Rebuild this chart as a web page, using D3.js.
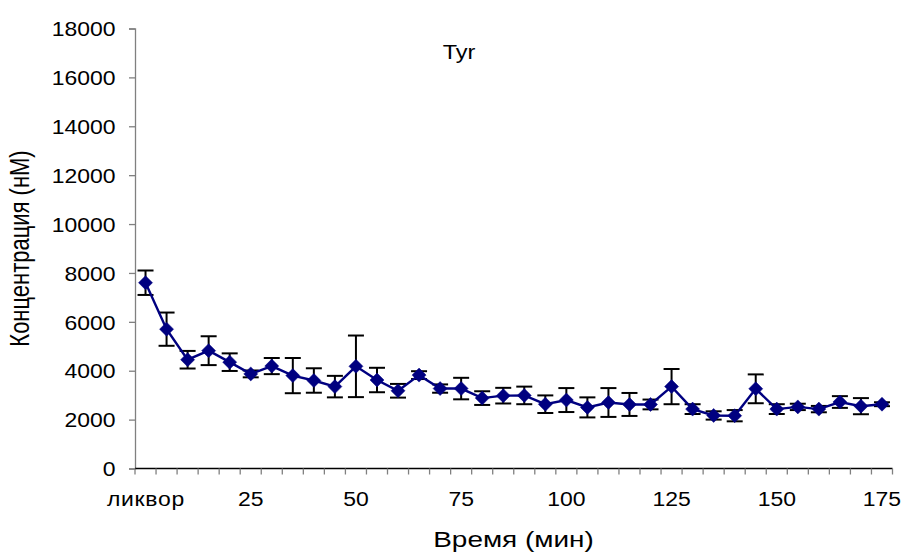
<!DOCTYPE html>
<html><head><meta charset="utf-8">
<script src="https://cdn.jsdelivr.net/npm/d3@7"></script>
<style>body{margin:0;background:#fff}svg{display:block}text{font-family:"Liberation Sans",Arial,sans-serif;fill:#000}</style>
</head><body><svg id="c" width="903" height="553"></svg>
<script>
const categories = ["ликвор","5","10","15","20","25","30","35","40","45","50","55","60","65","70","75","80","85","90","95","100","105","110","115","120","125","130","135","140","145","150","155","160","165","170","175"];
const values = [7600,5700,4450,4820,4350,3870,4190,3800,3600,3350,4180,3620,3180,3820,3270,3270,2880,2980,2990,2630,2800,2500,2700,2620,2620,3350,2430,2170,2160,3260,2430,2520,2430,2720,2550,2630];
const errors = [500,680,360,590,360,140,330,720,500,440,1260,500,280,160,170,440,280,320,360,360,490,410,590,470,200,720,200,170,230,590,200,130,130,240,330,80];
const yTicks = [0,2000,4000,6000,8000,10000,12000,14000,16000,18000];
const xLabels = ["ликвор","25","50","75","100","125","150","175"];
const title = "Tyr", xTitle = "Время (мин)", yTitle = "Концентрация (нМ)";

const SX = 1.12, SXT = 1.27;
const svg = d3.select("#c");
const L = 135, R = 892.5, T = 28.5, B = 468.5;
const x = d3.scaleBand().domain(categories).range([L, R]).padding(0);
const y = d3.scaleLinear().domain([0, 18000]).range([B, T]);
const cx = d => x(d) + x.bandwidth() / 2;

function stext(px, py, txt, size, anchor, sx, rot) {
  const g = svg.append("g").attr("transform", `translate(${px},${py}) scale(${sx},1)` + (rot ? ` rotate(${rot})` : ""));
  g.append("text").attr("text-anchor", anchor).attr("font-size", size).text(txt);
  return g;
}

// Y axis
const ya = svg.append("g").attr("transform", `translate(${L},0)`)
  .call(d3.axisLeft(y).tickValues(yTicks).tickSize(6).tickFormat(d3.format("d")));
ya.select(".domain").attr("stroke", "#808080").attr("stroke-width", 1.3);
ya.selectAll(".tick line").attr("stroke", "#808080").attr("stroke-width", 1.3);
ya.selectAll(".tick text").attr("x", 0).attr("dy", "0.35em").attr("font-size", 20.5).attr("font-family", '"Liberation Sans",Arial,sans-serif')
  .attr("transform", `translate(-19.5,0) scale(${SX},1)`).attr("fill", "#000");

// X axis line + ticks at category boundaries
const xa = svg.append("g").attr("transform", `translate(0,${B})`);
xa.append("line").attr("x1", L).attr("x2", R).attr("stroke", "#000").attr("stroke-width", 1.3);
const bounds = categories.map(c => x(c)).concat([R]);
xa.selectAll("line.tk").data(bounds).join("line").attr("class", "tk")
  .attr("x1", d => d).attr("x2", d => d).attr("y1", 0).attr("y2", 6)
  .attr("stroke", "#808080").attr("stroke-width", 1.3);
xLabels.forEach(lab => {
  const g = stext(cx(lab), B + 37, lab, 20.5, "middle", SX);
  if (lab === "ликвор") g.select("text").attr("textLength", 69).attr("lengthAdjust", "spacing");
});

// Error bars
const eb = svg.append("g").attr("stroke", "#000").attr("stroke-width", 2);
categories.forEach((c, i) => {
  const xc = cx(c), y1 = y(values[i] + errors[i]), y2 = y(values[i] - errors[i]);
  eb.append("line").attr("x1", xc).attr("x2", xc).attr("y1", y1).attr("y2", y2);
  eb.append("line").attr("x1", xc - 8).attr("x2", xc + 8).attr("y1", y1).attr("y2", y1);
  eb.append("line").attr("x1", xc - 8).attr("x2", xc + 8).attr("y1", y2).attr("y2", y2);
});

// Line
svg.append("path").datum(values)
  .attr("fill", "none").attr("stroke", "#000080").attr("stroke-width", 2.4)
  .attr("d", d3.line().x((d, i) => cx(categories[i])).y(d => y(d)));

// Markers
svg.append("g").selectAll("path").data(values).join("path")
  .attr("transform", (d, i) => `translate(${cx(categories[i])},${y(d)})`)
  .attr("d", "M0,-7L7,0L0,7L-7,0Z").attr("fill", "#000080").attr("stroke", "#000080").attr("stroke-width", 0.5);

// Titles
stext(459, 59, title, 21, "middle", SX);
stext(513.5, 547, xTitle, 22, "middle", SXT);
stext(29, 248.5, yTitle, 22, "middle", SXT, -90);
</script></body></html>
